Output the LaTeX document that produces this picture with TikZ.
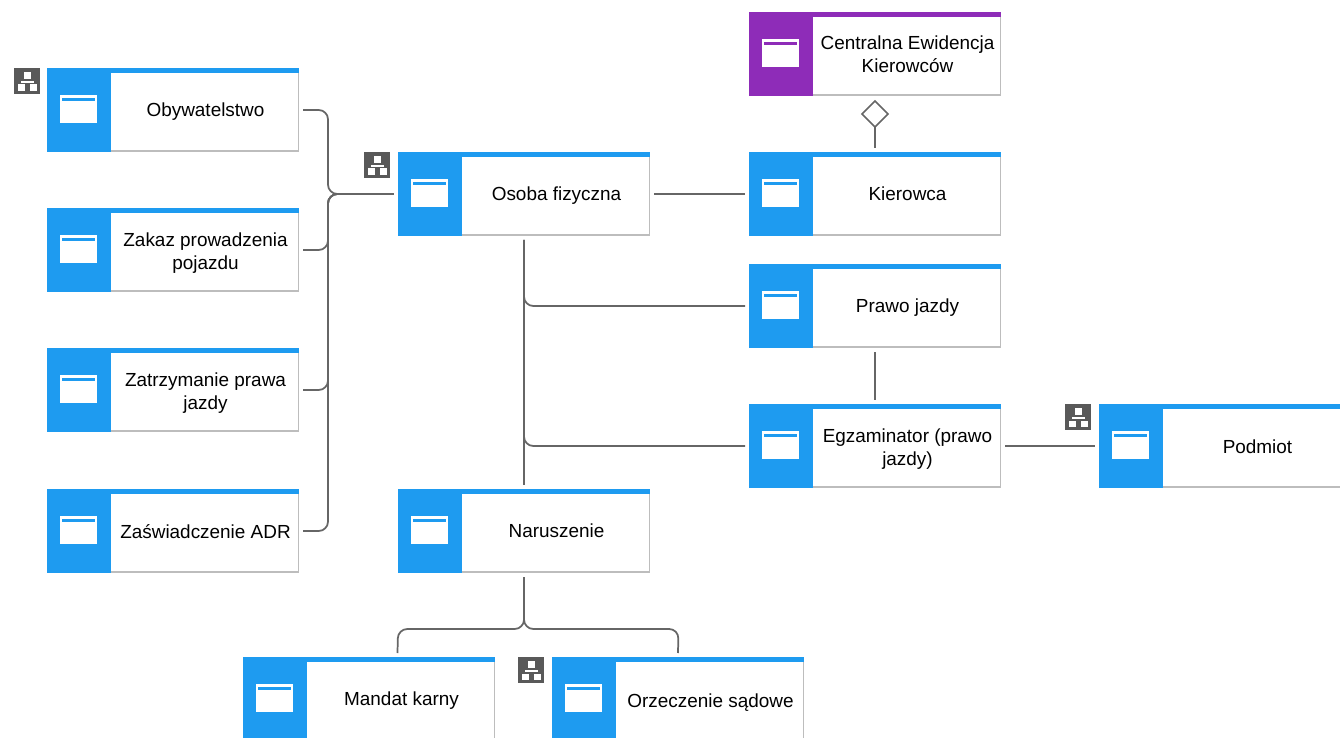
\documentclass[tikz,border=0pt]{standalone}
\usepackage{fontspec}
\setmainfont{Liberation Sans}
\usetikzlibrary{calc,shapes.geometric}
\definecolor{entblue}{HTML}{1E9BF0}
\definecolor{entpurple}{HTML}{8E2CB8}
\definecolor{edgegray}{HTML}{BDBDBD}
\definecolor{linegray}{HTML}{666666}
\definecolor{badgegray}{HTML}{595959}
\tikzset{
  anchorbox/.style={rectangle,minimum width=189pt,minimum height=63pt,inner sep=0pt,outer sep=3pt},
  entlabel/.style={align=center,inner sep=0pt,font=\fontsize{14.2}{17.25}\selectfont,text=black},
  conn/.style={draw=linegray,line width=1.3pt},
  roundconn/.style={conn,rounded corners=7pt},
  aggr/.style={diamond,draw=linegray,line width=1.3pt,fill=white,minimum width=19.5pt,minimum height=19.5pt,inner sep=0pt,outer sep=0pt,aspect=1},
}
% [label y inside box], name, left, top, colour, text
\newcommand{\entity}[6][44]{%
  \begin{scope}[shift={(#3,#4)}]
    \fill[white] (64,5) rectangle (252,84);
    \draw[edgegray,line width=1.2pt] (251.5,5) -- (251.5,83) -- (64,83);
    \fill[#5] (0,0) rectangle (252,5);
    \fill[#5] (0,0) rectangle (64,84);
    \fill[white] (13,27) rectangle (49.5,55);
    \fill[#5] (15,30.2) rectangle (47.7,32.8);
    \node[anchorbox] (#2) at (126,42) {};
    \node[entlabel] (#2-t) at (158.5,#1) {\strut #6};
  \end{scope}}
% name, left, top
\newcommand{\badge}[3]{%
  \begin{scope}[shift={(#2,#3)}]
    \node[rectangle,fill=badgegray,minimum width=19.5pt,minimum height=19.3pt,inner sep=0pt,anchor=north west] (#1) at (0,0) {};
    \fill[white] (10,4) rectangle (17.3,10.7);
    \fill[white] (6.7,12.8) rectangle (20,14.6);
    \fill[white] (4,16.5) rectangle (11,23);
    \fill[white] (16.3,16.5) rectangle (23.3,23);
  \end{scope}}
\begin{document}
\begin{tikzpicture}[x=.75pt,y=-.75pt]
\useasboundingbox (0,0) rectangle (1340,738);
\clip (0,0) rectangle (1340,738);
\entity{ob}{47}{68}{entblue}{Obywatelstwo}
\entity{zk}{47}{208}{entblue}{Zakaz prowadzenia\\pojazdu}
\entity{zt}{47}{348}{entblue}{Zatrzymanie prawa\\jazdy}
\entity[45]{ad}{47}{489}{entblue}{Zaświadczenie ADR}
\entity{os}{398}{152}{entblue}{Osoba fizyczna}
\entity{na}{398}{489}{entblue}{Naruszenie}
\entity[41]{ce}{749}{12}{entpurple}{Centralna Ewidencja\\Kierowców}
\entity{kr}{749}{152}{entblue}{Kierowca}
\entity{pj}{749}{264}{entblue}{Prawo jazdy}
\entity{eg}{749}{404}{entblue}{Egzaminator (prawo\\jazdy)}
\entity[45]{po}{1099}{404}{entblue}{Podmiot}
\entity{mk}{243}{657}{entblue}{Mandat karny}
\entity[46]{or}{552}{657}{entblue}{Orzeczenie sądowe}
\badge{b1}{14}{68}
\badge{b2}{364}{152}
\badge{b3}{1065}{404}
\badge{b4}{518}{657}
\coordinate (bus) at (328,194);
\coordinate (jn) at (340,194);
\draw[conn] (jn) -- (os.west);
\foreach \s in {ob,zk,zt,ad}
  \draw[roundconn] (\s.east) -- (\s.east -| bus) -- (bus) -- (jn);
\draw[conn] (os.east) -- (kr.west);
\draw[conn] (os.south) -- (na.north);
\draw[roundconn] (os.south) |- (pj.west);
\draw[roundconn] (os.south) |- (eg.west);
\draw[conn] (pj.south) -- (eg.north);
\draw[conn] (eg.east) -- (po.west);
\node[aggr] (dm) at (875,114) {};
\draw[conn] (kr.north) -- (dm.south);
\coordinate (fork) at (524,629);
\draw[roundconn] (na.south) -- (fork) -- ($(fork)+(-126,0)$) -- ($(mk.north)+(28.5,0)$);
\draw[roundconn] (na.south) -- (fork) -- ($(fork)+(154.5,0)$) -- (or.north);
\end{tikzpicture}
\end{document}
